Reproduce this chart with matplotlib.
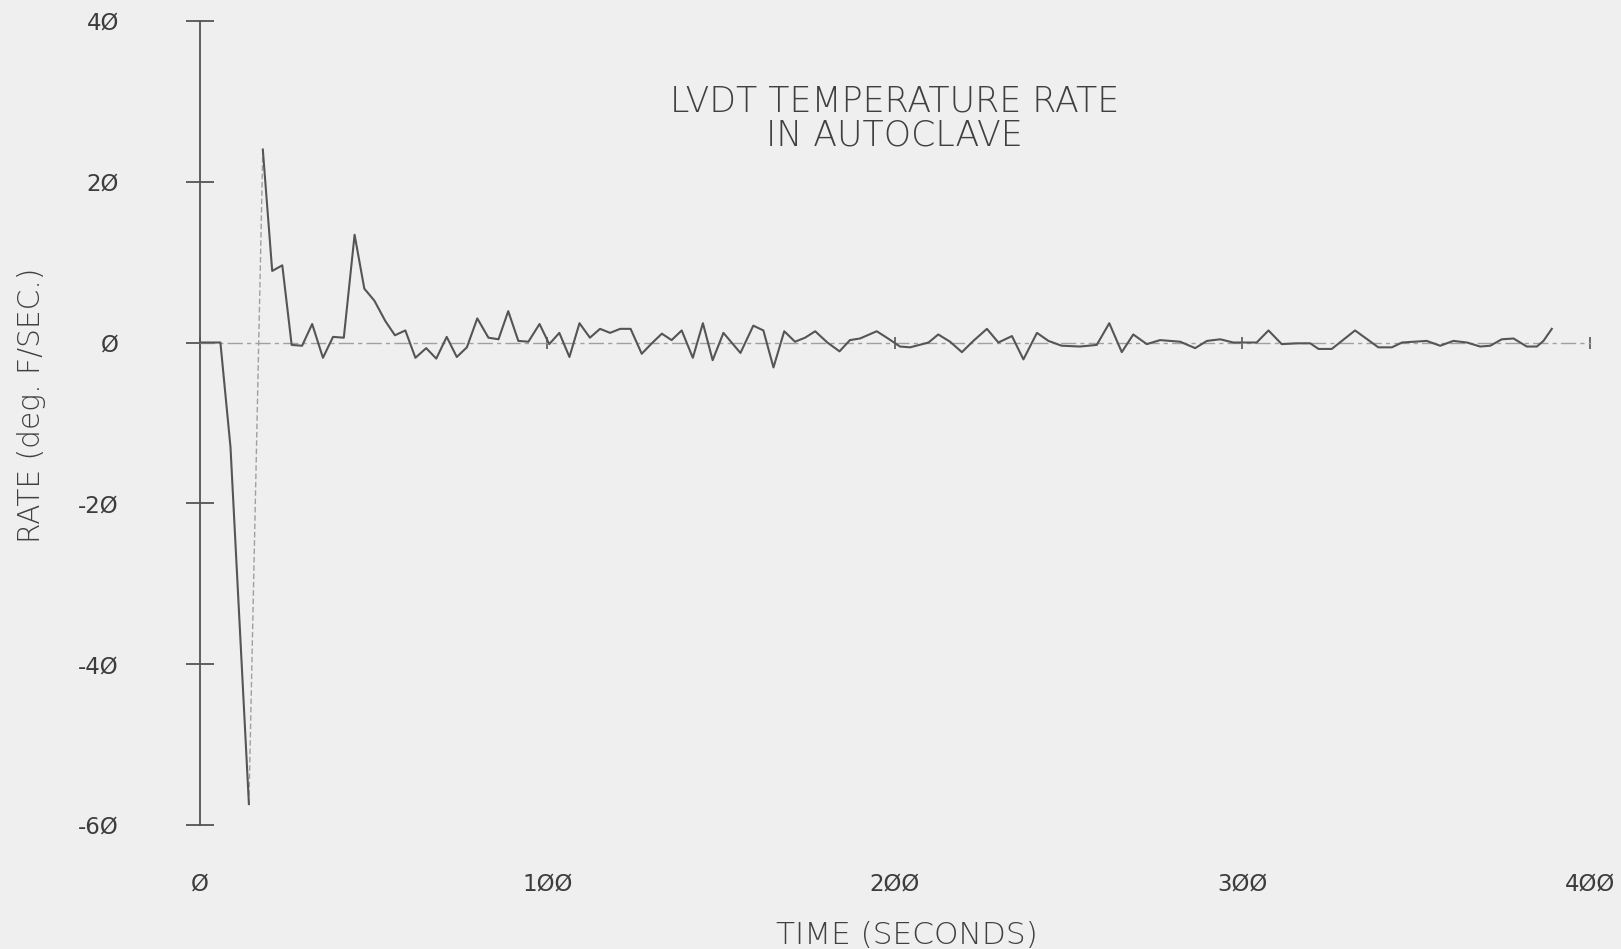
import matplotlib
matplotlib.use("Agg")
import matplotlib.pyplot as plt
import numpy as np

# Sampled LVDT temperature rate in the autoclave
time_s = [0, 3, 6, 8.9, 14.2, 18.2, 20.9, 23.8, 26.5, 29.5, 32.4, 35.5, 38.4,
          41.5, 44.6, 47.4, 50.3, 53.4, 56.2, 59.2, 62.1, 65.2, 68.1, 71.1,
          74.0, 76.9, 79.9, 83.1, 86.0, 88.8, 91.7, 94.6, 97.8, 100.6, 103.5,
          106.4, 109.3, 112.3, 115.2, 118.1, 121.0, 124.0, 127.2, 130.1, 133.0,
          135.8, 138.7, 141.9, 144.8, 147.6, 150.7, 155.6, 159.3, 162.2, 165.1,
          168.2, 171.3, 174.2, 177.1, 180.6, 184.1, 187.1, 190.0, 194.8, 197.7,
          201.5, 204.4, 209.7, 212.5, 215.9, 219.3, 222.6, 226.5, 229.8, 233.7,
          237.0, 240.9, 244.2, 248.0, 253.3, 258.1, 261.7, 265.3, 268.6, 272.5,
          276.3, 282.1, 286.4, 289.8, 293.6, 297.4, 304.1, 307.5, 311.3, 315.7,
          319.5, 321.9, 325.7, 332.4, 339.1, 343.0, 345.9, 353.0, 356.9, 360.7,
          364.6, 368.4, 371.3, 374.6, 378.0, 381.8, 384.7, 386.6, 389.0]
rate = [0, 0, 0, -13.0, -57.4, 24.0, 8.9, 9.6, -0.3, -0.4, 2.3, -1.9, 0.7,
        0.6, 13.4, 6.7, 5.2, 2.7, 0.9, 1.5, -1.9, -0.7, -2.0, 0.7,
        -1.8, -0.6, 3.0, 0.6, 0.4, 3.9, 0.2, 0.1, 2.3, -0.2, 1.2,
        -1.8, 2.4, 0.6, 1.7, 1.2, 1.7, 1.7, -1.4, -0.1, 1.1,
        0.3, 1.5, -1.9, 2.4, -2.2, 1.2, -1.3, 2.1, 1.5, -3.1,
        1.4, 0.1, 0.6, 1.4, 0.0, -1.1, 0.3, 0.5, 1.4, 0.6,
        -0.5, -0.6, 0.0, 1.0, 0.1, -1.2, 0.2, 1.7, 0.0, 0.8,
        -2.1, 1.2, 0.2, -0.4, -0.5, -0.3, 2.4, -1.2, 1.0, -0.2,
        0.3, 0.1, -0.7, 0.2, 0.4, 0.0, 0.0, 1.5, -0.2, -0.1,
        -0.1, -0.8, -0.8, 1.5, -0.6, -0.6, 0.0, 0.2, -0.4, 0.2,
        0.0, -0.5, -0.4, 0.4, 0.5, -0.5, -0.5, 0.2, 1.7]

x_ticks = [0, 100, 200, 300, 400]
x_tick_labels = ["\u00d8", "1\u00d8\u00d8", "2\u00d8\u00d8", "3\u00d8\u00d8", "4\u00d8\u00d8"]
y_ticks = [-60, -40, -20, 0, 20, 40]
y_tick_labels = ["-6\u00d8", "-4\u00d8", "-2\u00d8", "\u00d8", "2\u00d8", "4\u00d8"]

title_text = "LVDT TEMPERATURE RATE\nIN AUTOCLAVE"
x_label = "TIME (SECONDS)"
y_label = "RATE (deg. F/SEC.)"

BG = "#efefef"
INK = "#404040"
TICK_INK = "#3c3c3c"
LINE = "#555555"

plt.rcParams["font.family"] = ["DejaVu Sans"]

fig = plt.figure(figsize=(16.21, 9.49), dpi=100, facecolor=BG)
ax = fig.add_axes([0.1231, 0.1307, 0.8578, 0.8473], facecolor=BG)
ax.set_xlim(0, 400)
ax.set_ylim(-60, 40)

t = np.asarray(time_s)
r = np.asarray(rate)
i_min = int(np.argmin(r))

# main trace; the fast pen swing from the minimum to the next peak is faint
ax.plot(t[:i_min + 1], r[:i_min + 1], color=LINE, lw=1.5, zorder=3)
ax.plot(t[i_min:i_min + 2], r[i_min:i_min + 2], color="#a0a0a0", lw=1.0,
        linestyle=(0, (4, 2)), zorder=2)
ax.plot(t[i_min + 1:], r[i_min + 1:], color=LINE, lw=1.5, zorder=3)

for side in ("top", "right"):
    ax.spines[side].set_visible(False)
ax.spines["left"].set_color(LINE)
ax.spines["left"].set_linewidth(1.3)
ax.spines["bottom"].set_position(("data", 0))
ax.spines["bottom"].set_color("#a0a0a0")
ax.spines["bottom"].set_linewidth(1.0)
ax.spines["bottom"].set_linestyle((0, (10, 4, 2, 4)))

ax.set_yticks(y_ticks)
ax.set_yticklabels(y_tick_labels)
ax.tick_params(axis="y", direction="inout", length=20, width=1.3, color=LINE,
               pad=48, labelsize=16.5, labelcolor=TICK_INK)
ax.set_xticks(x_ticks)
ax.tick_params(axis="x", direction="inout", length=8, width=1.2, color=LINE,
               labelbottom=False)

sec = ax.secondary_xaxis("bottom")
sec.set_xticks(x_ticks)
sec.set_xticklabels(x_tick_labels)
sec.spines["bottom"].set_visible(False)
sec.tick_params(axis="x", length=0, pad=34, labelsize=16.5, labelcolor=TICK_INK)

ax.set_xlabel(x_label, fontsize=22.5, color=INK, va="center", fontweight="light")
ax.xaxis.set_label_coords(0.5088, -0.1370)
ax.set_ylabel(y_label, fontsize=21.3, color=INK, va="center", fontweight="light")
ax.yaxis.set_label_coords(-0.1212, 0.522)

ax.text(0.5, 0.878, title_text, transform=ax.transAxes, ha="center",
        va="center", fontsize=25, color=INK, linespacing=1.0,
        fontweight="light")

fig.savefig("out.png", dpi=100, facecolor=BG)
